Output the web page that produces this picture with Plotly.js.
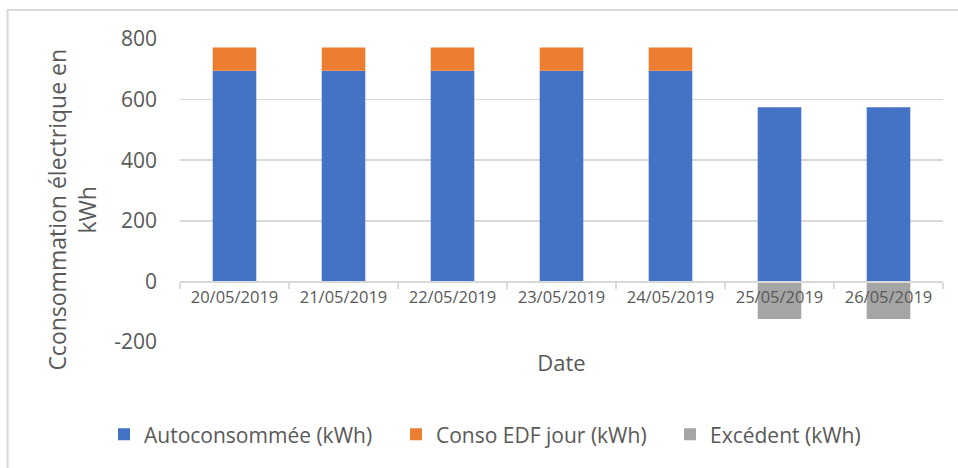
<!DOCTYPE html>
<html>
<head>
<meta charset="utf-8">
<script src="https://cdn.plot.ly/plotly-3.0.1.min.js"></script>
<style>
html,body{margin:0;padding:0;background:#fff;}
#chart{width:958px;height:468px;}
</style>
</head>
<body>
<div id="chart"></div>
<script>
const dates = ["20/05/2019","21/05/2019","22/05/2019","23/05/2019","24/05/2019","25/05/2019","26/05/2019"];
const autoconsommee = [695, 695, 695, 695, 695, 575, 575];
const consoEDF = [77, 77, 77, 77, 77, 0, 0];
const excedent = [0, 0, 0, 0, 0, -124, -124];
const yTicks = [-200, 0, 200, 400, 600, 800];

const seriesNames = ["Autoconsommée (kWh)", "Conso EDF jour (kWh)", "Excédent (kWh)"];
const colors = ["#4472C4", "#ED7D31", "#A5A5A5"];
const values = [autoconsommee, consoEDF, excedent];
const legendIds = ["legend", "legend2", "legend3"];
const legendX = [-0.0996, 0.2831, 0.6422];

const traces = values.map((v, i) => ({
  type: "bar",
  name: seriesNames[i],
  x: dates,
  y: v,
  legend: legendIds[i],
  marker: {color: colors[i], line: {width: 0}},
  hoverinfo: "x+y+name"
}));

const font = "Open Sans, Liberation Sans, sans-serif";
const layout = {
  width: 958,
  height: 468,
  barmode: "relative",
  bargap: 0.6,
  paper_bgcolor: "#ffffff",
  plot_bgcolor: "#ffffff",
  margin: {l: 180, r: 15, t: 39, b: 126, pad: 0},
  font: {family: font, color: "#595959"},
  showlegend: true,
  xaxis: {
    type: "category",
    anchor: "free",
    position: 0.2,
    showline: true,
    linecolor: "#d9d9d9",
    linewidth: 1.5,
    ticks: "outside",
    tickson: "boundaries",
    ticklen: 6,
    tickcolor: "#d9d9d9",
    tickwidth: 1.5,
    showgrid: false,
    zeroline: false,
    tickfont: {size: 16.5, color: "#595959", family: font},
    title: {text: "Date", font: {size: 22, color: "#595959", family: font}, standoff: 49}
  },
  yaxis: {
    range: [-200, 800],
    tickvals: yTicks,
    ticktext: yTicks.map(String),
    showgrid: true,
    gridcolor: "#d9d9d9",
    gridwidth: 1.5,
    zeroline: false,
    showline: false,
    ticks: "",
    ticklabelstandoff: 22,
    tickfont: {size: 21, color: "#595959", family: font}
  },
  annotations: [{
    text: "Cconsommation électrique en<br>kWh",
    textangle: -90,
    xref: "paper", yref: "paper",
    x: -0.1415, y: 0.437,
    xanchor: "center", yanchor: "middle",
    showarrow: false,
    font: {size: 23, color: "#595959", family: font}
  }],
  shapes: [{
    type: "rect", xref: "paper", yref: "paper",
    x0: -0.226, x1: 1.1, y0: -0.45, y1: 1.096,
    line: {color: "#d9d9d9", width: 2},
    fillcolor: "rgba(0,0,0,0)",
    layer: "below"
  }]
};
legendIds.forEach((id, i) => {
  layout[id] = {
    orientation: "h",
    x: legendX[i], xanchor: "left",
    y: -0.306, yanchor: "middle",
    bgcolor: "rgba(0,0,0,0)",
    font: {size: 21, color: "#595959", family: font},
    itemclick: false
  };
});

Plotly.newPlot("chart", traces, layout, {staticPlot: true, displayModeBar: false});
</script>
</body>
</html>
